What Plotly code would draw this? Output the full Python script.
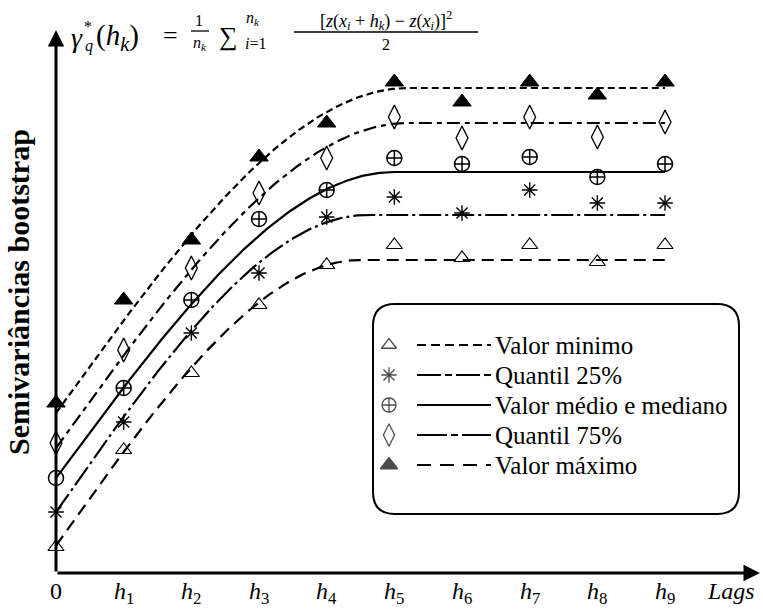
import numpy as np
import plotly.graph_objects as go

# ---------------- data ----------------
lags = [0, 1, 2, 3, 4, 5, 6, 7, 8, 9]
lag_labels = ["0", "h1", "h2", "h3", "h4", "h5", "h6", "h7", "h8", "h9"]

valor_minimo = [0.52, 2.46, 4.00, 5.36, 6.16, 6.56, 6.30, 6.56, 6.22, 6.56]
quantil_25 = [1.22, 3.02, 4.80, 6.00, 7.12, 7.52, 7.20, 7.66, 7.40, 7.40]
valor_medio = [1.90, 3.70, 5.46, 7.08, 7.66, 8.30, 8.18, 8.32, 7.92, 8.18]
quantil_75 = [2.60, 4.46, 6.10, 7.60, 8.30, 9.12, 8.70, 9.12, 8.72, 9.02]
valor_maximo = [3.40, 5.46, 6.66, 8.32, 9.00, 9.82, 9.42, 9.82, 9.56, 9.82]

# fitted spherical models: (nugget, sill, range in lags)
fit_minimo = (0.55, 6.26, 4.5)
fit_q25 = (1.22, 7.16, 4.6)
fit_medio = (1.90, 8.02, 5.0)
fit_q75 = (2.50, 9.00, 5.2)
fit_maximo = (3.20, 9.70, 5.2)

legend_names = ["Valor minimo", "Quantil 25%", "Valor médio e mediano",
                "Quantil 75%", "Valor máximo"]

# ---------------- layout geometry ----------------
ML, MR, MT, MB = 56, 3, 30, 42
W, H = 763, 615
PW, PH = W - ML - MR, H - MT - MB
XSCALE, YSCALE = 67.67, 50.0
XMAX, YMAX = PW / XSCALE, PH / YSCALE


def px(x):
    return (x - ML) / PW


def py(y):
    return (H - MB - y) / PH


def dx(x):
    return (x - ML) / XSCALE


def dy(y):
    return (H - MB - y) / YSCALE


def spherical(h, c0, sill, a):
    h = np.asarray(h, dtype=float)
    r = np.clip(h / a, 0, 1)
    return c0 + (sill - c0) * (1.5 * r - 0.5 * r ** 3)


hh = np.linspace(0, 9, 300)
SERIF = "Liberation Serif, Times New Roman, serif"

fig = go.Figure()

series = [
    (valor_minimo, fit_minimo, "12px,7px", ["triangle-up-open"] * 10, 14, 1.2),
    (quantil_25, fit_q25, "22px,4px,3px,4px", ["asterisk-open"] * 10, 13, 1.4),
    (valor_medio, fit_medio, "solid", ["circle-open"] + ["circle-cross-open"] * 9, 15, 1.5),
    (quantil_75, fit_q75, "13px,5px,5px,5px", ["diamond-tall-open"] * 10, 17, 1.3),
    (valor_maximo, fit_maximo, "7px,4px", ["triangle-up"] * 10, 16, 1),
]

for vals, fit, dash, syms, size, lw in series:
    fig.add_trace(go.Scatter(
        x=hh, y=spherical(hh, *fit), mode="lines",
        line=dict(color="black", width=2.2, dash=dash),
        showlegend=False, hoverinfo="skip", cliponaxis=False))
    fig.add_trace(go.Scatter(
        x=lags, y=vals, mode="markers",
        marker=dict(symbol=syms, size=size, color="black",
                    line=dict(color="black", width=lw)),
        showlegend=False, cliponaxis=False))

annotations = []
shapes = []

# axes with arrows
annotations.append(dict(x=XMAX, y=0, ax=0, ay=0, xref="x", yref="y",
                        axref="x", ayref="y", text="", showarrow=True,
                        arrowhead=2, arrowsize=1.1, arrowwidth=3,
                        arrowcolor="black", standoff=0))
annotations.append(dict(x=0, y=YMAX, ax=0, ay=0, xref="x", yref="y",
                        axref="x", ayref="y", text="", showarrow=True,
                        arrowhead=2, arrowsize=1.1, arrowwidth=3,
                        arrowcolor="black", standoff=0))

# tick labels
for k, lab in zip(lags, lag_labels):
    if lab == "0":
        t = "0"
    else:
        t = "<i>h</i><sub>" + lab[1:] + "</sub>"
    annotations.append(dict(x=k, y=0, xref="x", yref="y", text=t,
                            showarrow=False, xanchor="center", yanchor="top",
                            yshift=-3,
                            font=dict(family=SERIF, size=24, color="black")))
annotations.append(dict(x=px(731), y=0, xref="paper", yref="y",
                        text="<i>Lags</i>", showarrow=False, yanchor="top",
                        xanchor="center", yshift=-3,
                        font=dict(family=SERIF, size=24, color="black")))

# y label
annotations.append(dict(x=px(18), y=py(292), xref="paper", yref="paper",
                        text="<b>Semivariâncias bootstrap</b>", textangle=-90,
                        showarrow=False, xanchor="center", yanchor="middle",
                        font=dict(family=SERIF, size=30, color="black")))


def txt(x, y, s, size, anchor="center"):
    annotations.append(dict(x=px(x), y=py(y), xref="paper", yref="paper",
                            text=s, showarrow=False, xanchor=anchor,
                            yanchor="middle",
                            font=dict(family=SERIF, size=size, color="black")))


def hline(x0, x1, y, width=1.3, dash="solid"):
    shapes.append(dict(type="line", xref="paper", yref="paper",
                       x0=px(x0), x1=px(x1), y0=py(y), y1=py(y),
                       line=dict(color="black", width=width, dash=dash)))


# formula
txt(77, 38, "<i>γ</i>", 28)
txt(88, 27, "*", 16)
txt(89, 46, "<i>q</i>", 16)
txt(94, 37, "(<i>h<sub>k</sub></i>)", 29, "left")
txt(170, 36, "=", 26)
txt(199, 20, "1", 16)
hline(191, 209, 31)
txt(200, 43, "<i>n<sub>k</sub></i>", 16)
txt(228, 37, "∑", 26)
txt(244, 19, "<i>n<sub>k</sub></i>", 16, "left")
txt(243, 43, "<i>i</i>=1", 16, "left")
txt(386, 20, "[<i>z</i>(<i>x<sub>i</sub></i> + <i>h<sub>k</sub></i>) − <i>z</i>(<i>x<sub>i</sub></i>)]<sup>2</sup>", 18)
hline(294, 478, 32)
txt(386, 44, "2", 16)

# legend box (rounded)
x0, x1, y0, y1, r = 373, 739, 304, 514, 22
def P(x, y):
    return f"{px(x):.5f},{py(y):.5f}"
path = (f"M {P(x0 + r, y0)} L {P(x1 - r, y0)} Q {P(x1, y0)} {P(x1, y0 + r)} "
        f"L {P(x1, y1 - r)} Q {P(x1, y1)} {P(x1 - r, y1)} "
        f"L {P(x0 + r, y1)} Q {P(x0, y1)} {P(x0, y1 - r)} "
        f"L {P(x0, y0 + r)} Q {P(x0, y0)} {P(x0 + r, y0)} Z")
shapes.append(dict(type="path", xref="paper", yref="paper", path=path,
                   line=dict(color="black", width=2), fillcolor="white",
                   layer="below"))

leg_rows = [345, 375, 405, 435, 465]
leg_syms = ["triangle-up-open", "asterisk-open", "circle-cross-open",
            "diamond-tall-open", "triangle-up"]
leg_sizes = [13, 13, 14, 16, 15]
leg_dash = ["9px,5px", "24px,4px,7px,4px", "solid", "30px,4px,7px,4px", "14px,9px"]
fig.add_trace(go.Scatter(
    x=[dx(389)] * 5, y=[dy(v) for v in leg_rows], mode="markers",
    marker=dict(symbol=leg_syms, size=leg_sizes, color="black",
                line=dict(color="black", width=1.3)),
    showlegend=False, hoverinfo="skip", cliponaxis=False))
for yy, d, name in zip(leg_rows, leg_dash, legend_names):
    hline(417, 491, yy, width=2.2, dash=d)
    txt(493, yy, name, 25, "left")

fig.update_layout(
    width=W, height=H,
    margin=dict(l=ML, r=MR, t=MT, b=MB, pad=0),
    paper_bgcolor="white", plot_bgcolor="white",
    xaxis=dict(range=[0, XMAX], visible=False, fixedrange=True),
    yaxis=dict(range=[0, YMAX], visible=False, fixedrange=True),
    annotations=annotations, shapes=shapes, showlegend=False,
)

fig.write_html("out.html", config={"displayModeBar": False},
               post_script="document.body.style.margin='0';document.body.style.padding='0';")
